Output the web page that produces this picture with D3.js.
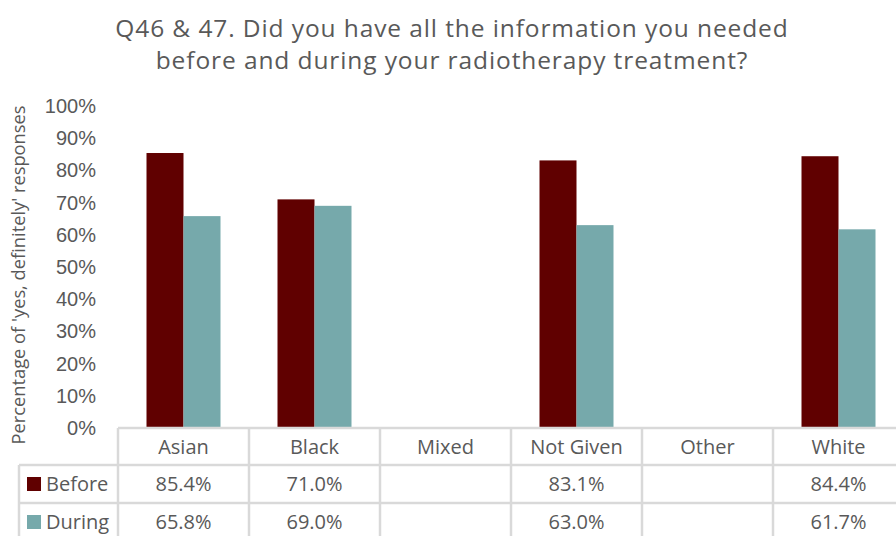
<!DOCTYPE html>
<html>
<head>
<meta charset="utf-8">
<script src="https://cdn.jsdelivr.net/npm/d3@7"></script>
<style>
  html, body { margin: 0; padding: 0; background: #fff; }
  svg { display: block; font-family: "Open Sans", "Noto Sans", sans-serif; }
</style>
</head>
<body>
<svg id="chart" width="896" height="536"></svg>
<script>
// Ethnic groups along the category axis
const categories = ["Asian", "Black", "Mixed", "Not Given", "Other", "White"];
// Share of 'yes, definitely' responses (null = no data reported)
const beforeValues = [85.4, 71.0, null, 83.1, null, 84.4];
const duringValues = [65.8, 69.0, null, 63.0, null, 61.7];
const seriesNames = ["Before", "During"];
const seriesColors = ["#600000", "#76a9ab"];
const yTicks = [0, 10, 20, 30, 40, 50, 60, 70, 80, 90, 100];
const titleLines = [
  "Q46 & 47. Did you have all the information you needed",
  "before and during your radiotherapy treatment?"
];
const yAxisTitle = "Percentage of 'yes, definitely' responses";

const series = [beforeValues, duringValues];
const svg = d3.select("#chart");
const textColor = "#595959";
const lineColor = "#d9d9d9";
const labelSize = 20;

const plotLeft = 118, plotTop = 106, plotBottom = 428;
const colWidth = 131;
const plotRight = plotLeft + colWidth * categories.length;

const x = d3.scaleBand().domain(categories).range([plotLeft, plotRight]).paddingInner(0).paddingOuter(0);
const xs = d3.scaleBand().domain(seriesNames).range([0, 74]);
const y = d3.scaleLinear().domain([0, 100]).range([plotBottom, plotTop]);

// Title
svg.append("g").selectAll("text").data(titleLines).join("text")
  .attr("x", 452).attr("y", (d, i) => 37 + i * 32)
  .attr("text-anchor", "middle")
  .attr("font-size", 24.5).attr("letter-spacing", 0.9)
  .attr("fill", textColor)
  .text(d => d);

// Y axis tick labels
const yAxis = d3.axisLeft(y).tickValues(yTicks).tickFormat(d => d + "%").tickSize(0).tickPadding(0);
const yg = svg.append("g").attr("transform", `translate(96,0)`).call(yAxis);
yg.select(".domain").remove();
yg.selectAll("text").attr("font-size", labelSize).attr("fill", textColor).attr("font-family", "inherit");

// Y axis title
svg.append("text")
  .attr("transform", `translate(25,${(plotTop + 444) / 2}) rotate(-90)`)
  .attr("text-anchor", "middle")
  .attr("font-size", 18.3).attr("fill", textColor)
  .text(yAxisTitle);

// Bars
series.forEach((vals, si) => {
  svg.append("g").selectAll("rect")
    .data(categories.map((c, i) => ({ c, v: vals[i] })).filter(d => d.v != null))
    .join("rect")
    .attr("x", d => x(d.c) + (colWidth - 74) / 2 + xs(seriesNames[si]))
    .attr("width", xs.bandwidth())
    .attr("y", d => y(d.v))
    .attr("height", d => y(0) - y(d.v))
    .attr("fill", seriesColors[si]);
});

// Data table below the plot
const rowTops = [plotBottom, 465, 503, 541];
const tableLeft = 19;
const grid = svg.append("g").attr("stroke", lineColor).attr("stroke-width", 2.5);
// horizontal lines
grid.append("line").attr("x1", plotLeft).attr("x2", 896).attr("y1", rowTops[0]).attr("y2", rowTops[0]);
[1, 2].forEach(r => grid.append("line").attr("x1", tableLeft).attr("x2", 896).attr("y1", rowTops[r]).attr("y2", rowTops[r]));
// vertical lines
grid.append("line").attr("x1", tableLeft).attr("x2", tableLeft).attr("y1", rowTops[1]).attr("y2", 536);
categories.forEach(c => grid.append("line").attr("x1", x(c)).attr("x2", x(c)).attr("y1", rowTops[0]).attr("y2", 536));

// Category header row
svg.append("g").selectAll("text").data(categories).join("text")
  .attr("x", d => x(d) + colWidth / 2)
  .attr("y", (rowTops[0] + rowTops[1]) / 2 + 7)
  .attr("text-anchor", "middle")
  .attr("font-size", labelSize).attr("fill", textColor)
  .text(d => d);

// Series rows: legend key + values
series.forEach((vals, si) => {
  const mid = (rowTops[si + 1] + rowTops[si + 2]) / 2;
  svg.append("rect").attr("x", 27).attr("y", mid - 7).attr("width", 14).attr("height", 14).attr("fill", seriesColors[si]);
  svg.append("text").attr("x", 46).attr("y", mid + 7)
    .attr("font-size", labelSize).attr("fill", textColor).text(seriesNames[si]);
  svg.append("g").selectAll("text")
    .data(categories.map((c, i) => ({ c, v: vals[i] })).filter(d => d.v != null))
    .join("text")
    .attr("x", d => x(d.c) + colWidth / 2)
    .attr("y", mid + 7)
    .attr("text-anchor", "middle")
    .attr("font-size", labelSize).attr("fill", textColor)
    .text(d => d.v.toFixed(1) + "%");
});
</script>
</body>
</html>
